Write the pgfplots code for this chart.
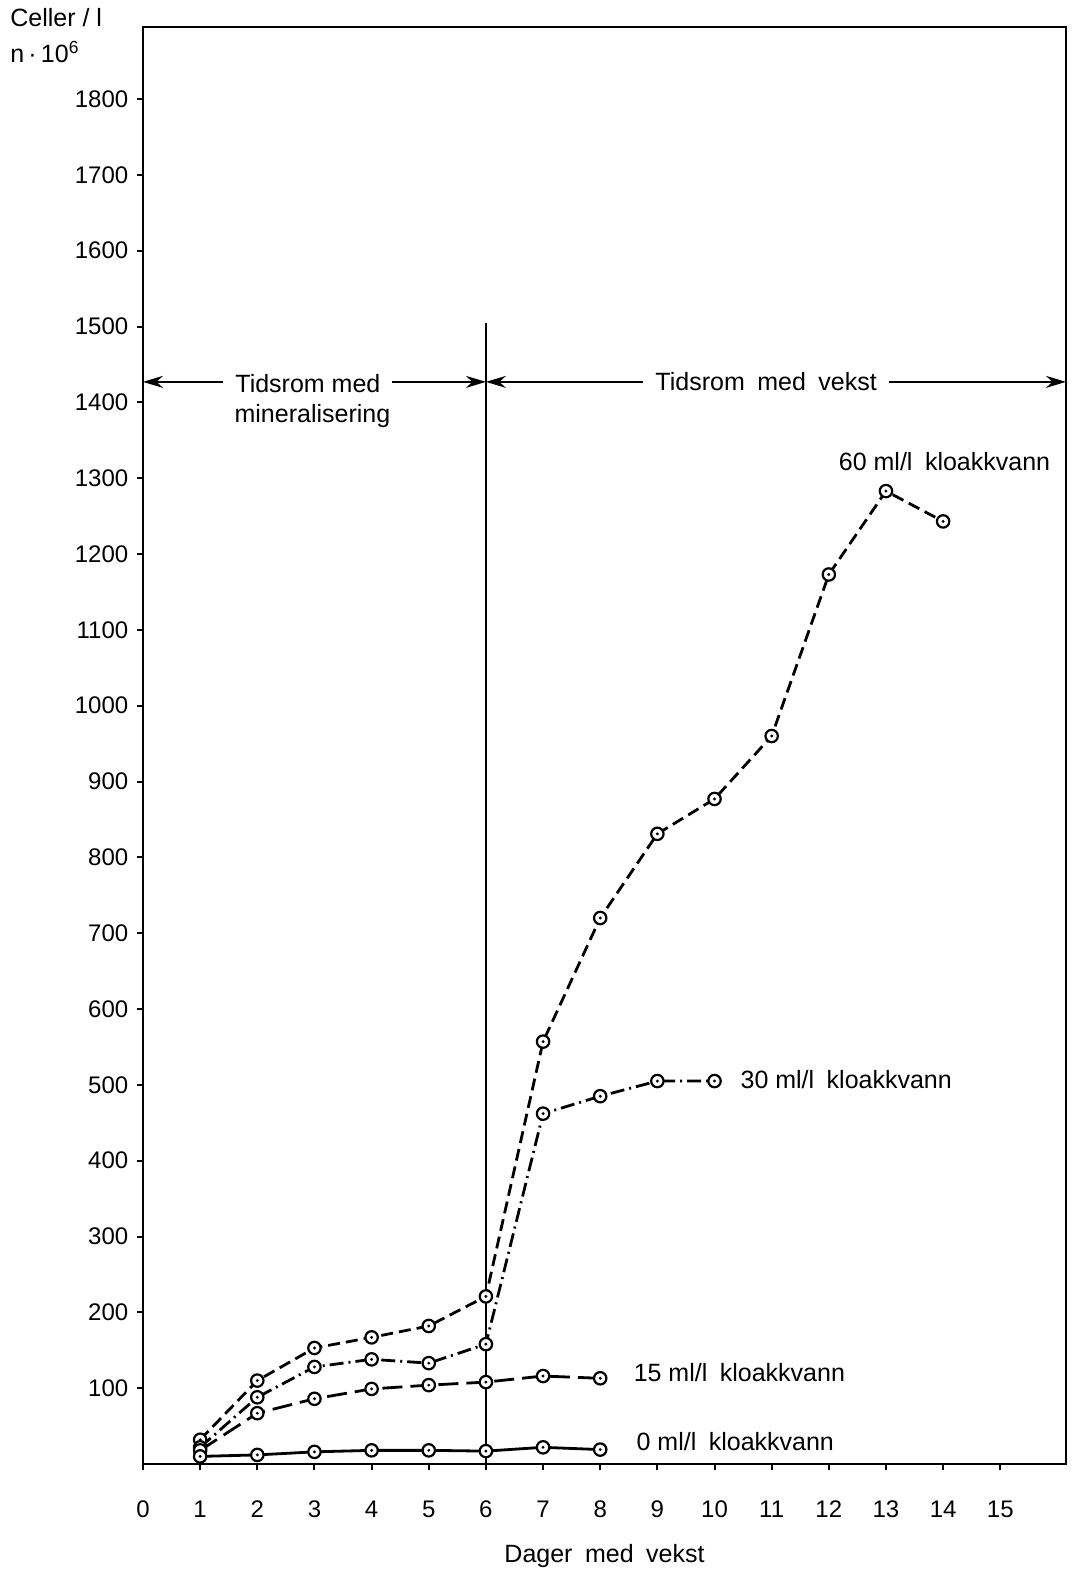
\documentclass[border=0pt]{standalone}
\usepackage{fontspec}
\setmainfont{Liberation Sans}
\usepackage{pgfplots}
\pgfplotsset{compat=1.18}
\usetikzlibrary{arrows.meta}

% circle with a dot in the middle
\pgfdeclareplotmark{dotcirc}{%
  \pgfpathcircle{\pgfpointorigin}{\pgfplotmarksize}%
  \pgfusepathqfillstroke
  \begin{pgfscope}%
  \pgfsetfillcolor{black}%
  \pgfpathcircle{\pgfpointorigin}{0.8pt}%
  \pgfusepathqfill
  \end{pgfscope}}

\begin{document}
\fontsize{12.5}{15}\selectfont
\begin{tikzpicture}
\useasboundingbox (-71.5pt,-55pt) rectangle (465.5pt,732pt);
\begin{axis}[
  scale only axis,
  width=461.5pt, height=718.5pt,
  xmin=0, xmax=16.15, ymin=0, ymax=1895,
  xtick={0,1,...,15},
  ytick={100,200,...,1800},
  xtick pos=bottom, ytick pos=left,
  tick align=outside,
  major tick length=3pt,
  tick style={line width=1pt, black},
  axis line style={line width=1.4pt},
  /pgf/number format/.cd, 1000 sep={}, assume math mode=true,
  /pgfplots/.cd,
  ticklabel style={font=\fontsize{12}{14}\selectfont},
  xticklabel style={yshift=-11pt},
  xlabel={Dager\enspace med\enspace vekst},
  xlabel style={at={(axis description cs:0.5,0)}, anchor=center, yshift=-46pt},
  clip=false,
  every axis plot/.append style={line width=1.4pt, black,
    mark=dotcirc, mark size=3.1pt,
    mark options={solid, fill=white, line width=1.1pt}},
]
% 60 ml/l
\addplot[dash pattern=on 6pt off 3pt] coordinates {
  (1,32) (2,110) (3,153) (4,167) (5,182) (6,221) (7,557) (8,720)
  (9,831) (10,877) (11,960) (12,1173) (13,1283) (14,1243)};
% 30 ml/l
\addplot[dash pattern=on 7pt off 2.5pt on 1pt off 2.5pt] coordinates {
  (1,22) (2,88) (3,128) (4,138) (5,133) (6,158) (7,462) (8,485)
  (9,505) (10,505)};
% 15 ml/l
\addplot[dash pattern=on 10pt off 4pt] coordinates {
  (1,18) (2,67) (3,86) (4,99) (5,104) (6,108) (7,116) (8,113)};
% 0 ml/l
\addplot[solid] coordinates {
  (1,10) (2,12) (3,16) (4,18) (5,18) (6,17) (7,22) (8,19)};

\draw[line width=0.7pt] (axis cs:6,0) -- (axis cs:6,1505);
\draw[line width=0.7pt, {Stealth[length=10pt,width=6pt]}-{Stealth[length=10pt,width=6pt]}]
  (axis cs:0,1427) -- (axis cs:6,1427);
\draw[line width=0.7pt, {Stealth[length=10pt,width=6pt]}-{Stealth[length=10pt,width=6pt]}]
  (axis cs:6,1427) -- (axis cs:16.15,1427);
\node[anchor=west, fill=white, inner xsep=6pt, inner ysep=1pt] at (axis cs:1.4,1425) {Tidsrom med};
\node[anchor=west] at (axis cs:1.45,1382) {mineralisering};
\node[anchor=west, fill=white, inner xsep=6pt, inner ysep=1pt] at (axis cs:8.75,1427) {Tidsrom\enspace med\enspace vekst};

\node[anchor=west, inner sep=0pt] at (axis cs:12.17,1322) {60 ml/l\enspace kloakkvann};
\node[anchor=west, inner sep=0pt] at (axis cs:10.45,507) {30 ml/l\enspace kloakkvann};
\node[anchor=west, inner sep=0pt] at (axis cs:8.58,120) {15 ml/l\enspace kloakkvann};
\node[anchor=west, inner sep=0pt] at (axis cs:8.63,30) {0 ml/l\enspace kloakkvann};

\node[anchor=west, inner sep=0pt] at ([xshift=-66.5pt, yshift=4.5pt]rel axis cs:0,1) {Celler / l};
\node[anchor=west, inner sep=0pt] at ([xshift=-66.5pt, yshift=-12.5pt]rel axis cs:0,1) {n\,·\,10\textsuperscript{6}};
\end{axis}
\end{tikzpicture}
\end{document}
